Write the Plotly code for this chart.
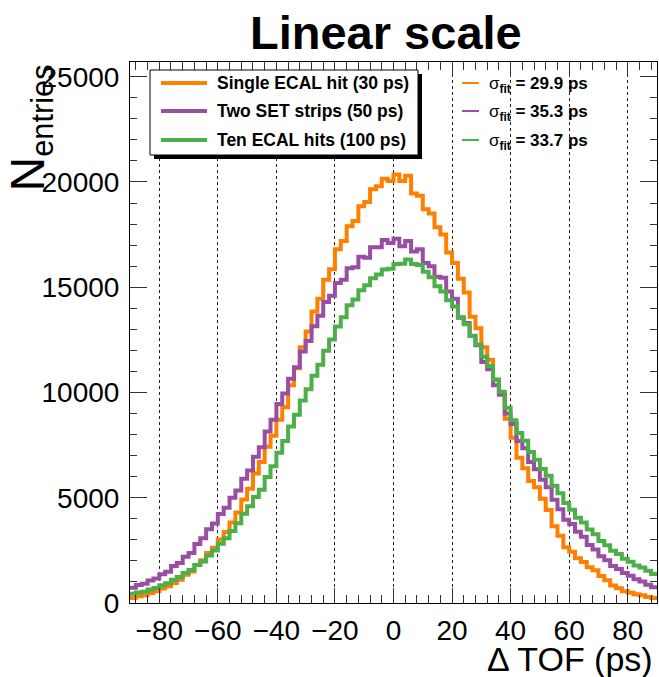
"""Delta-TOF distributions, linear scale, ROOT-like styling in Plotly."""
import plotly.graph_objects as go

# histogram binning (ps)
BIN_LO = -90
BIN_WIDTH = 2

# counts per 2 ps bin, bins from -90 to 90
SINGLE_ECAL = [
    240, 320, 370, 480, 560, 690, 790, 950, 1100, 1340,
    1500, 1800, 2030, 2380, 2620, 3020, 3370, 3830, 4300, 4920,
    5430, 6150, 6700, 7420, 7950, 8700, 9300, 10350, 11150, 12150,
    12900, 13850, 14450, 15350, 15850, 16800, 17200, 17900, 18150, 18850,
    19050, 19650, 19800, 20150, 20050, 20350, 20050, 20300, 19450, 19350,
    18700, 18500, 17850, 17500, 16650, 16150, 15400, 14750, 13600, 13050,
    12150, 11550, 10600, 9900, 8750, 7850, 6900, 6400, 5800, 5500,
    4950, 4420, 3650, 3200, 2650, 2430, 2120, 1950, 1700, 1550,
    1280, 1080, 830, 700, 560, 490, 410, 370, 290, 240,
]
TWO_SET = [
    720, 850, 920, 1070, 1160, 1360, 1490, 1760, 1900, 2200,
    2380, 2800, 3080, 3500, 3780, 4230, 4520, 5000, 5350, 5900,
    6300, 6950, 7400, 8150, 8700, 9450, 9950, 10650, 11200, 11950,
    12450, 13150, 13650, 14300, 14600, 15200, 15350, 15900, 15950, 16450,
    16400, 16900, 16900, 17250, 17100, 17300, 16950, 17200, 16700, 16800,
    16150, 16000, 15500, 15450, 14800, 14450, 13550, 13300, 12700, 12250,
    11450, 11100, 10350, 9900, 9000, 8500, 7700, 7350, 6700, 6350,
    5850, 5500, 4900, 4450, 3950, 3750, 3380, 3150, 2760, 2540,
    2220, 2030, 1760, 1620, 1420, 1300, 1130, 1020, 870, 750,
]
TEN_ECAL = [
    440, 500, 530, 640, 710, 840, 940, 1100, 1240, 1420,
    1570, 1800, 1970, 2260, 2490, 2820, 3080, 3420, 3790, 4240,
    4600, 5040, 5380, 5980, 6500, 7140, 7700, 8380, 8940, 9620,
    10160, 10800, 11320, 11980, 12520, 13130, 13570, 14140, 14420, 14860,
    15090, 15430, 15600, 15840, 15880, 16110, 16120, 16320, 16100, 16060,
    15730, 15480, 15050, 14800, 14380, 14080, 13580, 13240, 12680, 12280,
    11700, 11260, 10620, 10030, 9270, 8680, 8070, 7710, 7170, 6810,
    6370, 6050, 5570, 5210, 4750, 4430, 4050, 3830, 3490, 3270,
    2950, 2740, 2480, 2330, 2100, 1960, 1780, 1690, 1530, 1380,
]

LABELS = ["Single ECAL hit (30 ps)", "Two SET strips (50 ps)", "Ten ECAL hits (100 ps)"]
SIGMA_FIT = [29.9, 35.3, 33.7]
COLORS = ["#ff7f00", "#984ea3", "#4daf4a"]

FONT = "Liberation Sans, Arial, Helvetica, sans-serif"

# plot frame in pixels (used to place legend shapes / titles)
W, H = 659, 677
L, R, T, B = 130, 2, 62, 74
PW, PH = W - L - R, H - T - B


def px(x):
    return (x - L) / PW


def py(y):
    return (H - B - y) / PH


n_bins = len(SINGLE_ECAL)
edges = [BIN_LO + i * BIN_WIDTH for i in range(n_bins + 1)]

fig = go.Figure()
for counts, color, name in zip([SINGLE_ECAL, TWO_SET, TEN_ECAL], COLORS, LABELS):
    fig.add_trace(
        go.Scatter(
            x=edges,
            y=counts + [counts[-1]],
            mode="lines",
            line=dict(color=color, width=4, shape="hv"),
            name=name,
            showlegend=False,
        )
    )

axis_common = dict(
    showline=True,
    linecolor="black",
    linewidth=1,
    mirror="ticks",
    ticks="inside",
    tickcolor="#333",
    tickfont=dict(family=FONT, size=28, color="black"),
    zeroline=False,
)
fig.update_xaxes(
    range=[-90, 90],
    dtick=20,
    tick0=0,
    ticklen=15,
    minor=dict(dtick=4, ticklen=8, ticks="inside", tickcolor="#333", showgrid=False),
    showgrid=True,
    gridcolor="#222",
    griddash="dot",
    gridwidth=1,
    ticklabelstandoff=2,
    **axis_common,
)
fig.update_yaxes(
    range=[0, 25700],
    dtick=5000,
    tickformat="d",
    ticklen=17,
    minor=dict(dtick=1000, ticklen=7, ticks="inside", tickcolor="#333", showgrid=False),
    showgrid=False,
    ticklabelstandoff=4,
    **axis_common,
)

# legend box with ROOT-style shadow
box = (150, 70, 418, 155)
shapes = [
    dict(type="rect", xref="paper", yref="paper",
         x0=px(box[0] + 4), x1=px(box[2] + 4), y0=py(box[3] + 4), y1=py(box[1] + 4),
         fillcolor="black", line=dict(width=0), layer="above"),
    dict(type="rect", xref="paper", yref="paper",
         x0=px(box[0]), x1=px(box[2]), y0=py(box[3]), y1=py(box[1]),
         fillcolor="white", line=dict(color="black", width=1), layer="above"),
]
annotations = []
rows = [83, 111, 140]
for row, color, label, sig in zip(rows, COLORS, LABELS, SIGMA_FIT):
    shapes.append(dict(type="line", xref="paper", yref="paper",
                       x0=px(161), x1=px(207), y0=py(row), y1=py(row),
                       line=dict(color=color, width=4), layer="above"))
    annotations.append(dict(xref="paper", yref="paper", x=px(215), y=py(row),
                            xanchor="left", yanchor="middle", showarrow=False,
                            text=f"<b>{label}</b>",
                            font=dict(family=FONT, size=17.5, color="black")))
    shapes.append(dict(type="line", xref="paper", yref="paper",
                       x0=px(462), x1=px(479), y0=py(row), y1=py(row),
                       line=dict(color=color, width=2), layer="above"))
    annotations.append(dict(xref="paper", yref="paper", x=px(487), y=py(row + 2),
                            xanchor="left", yanchor="middle", showarrow=False,
                            text=f"σ<sub><b>fit</b></sub><b> = {sig} ps</b>",
                            font=dict(family=FONT, size=17, color="black")))

# titles
annotations.append(dict(xref="paper", yref="paper", x=px(385.5), y=py(33),
                        xanchor="center", yanchor="middle", showarrow=False,
                        text="<b>Linear scale</b>",
                        font=dict(family=FONT, size=47, color="black")))
annotations.append(dict(xref="paper", yref="paper", x=px(655), y=py(659),
                        xanchor="right", yanchor="middle", showarrow=False,
                        text="Δ TOF (ps)",
                        font=dict(family=FONT, size=34, color="black")))
annotations.append(dict(xref="paper", yref="paper", x=px(30), y=py(63),
                        xanchor="center", yanchor="top", showarrow=False,
                        textangle=-90,
                        text="<span style='font-size:48px'>N</span><sub>entries</sub>",
                        font=dict(family=FONT, size=44, color="black")))

fig.update_layout(
    width=W,
    height=H,
    margin=dict(l=L, r=R, t=T, b=B),
    paper_bgcolor="white",
    plot_bgcolor="white",
    shapes=shapes,
    annotations=annotations,
    showlegend=False,
)

# the page's default 8px body margin would shift the whole figure
fig.write_html(
    "out.html",
    config={"displayModeBar": False},
    post_script="document.body.style.margin='0';",
)
